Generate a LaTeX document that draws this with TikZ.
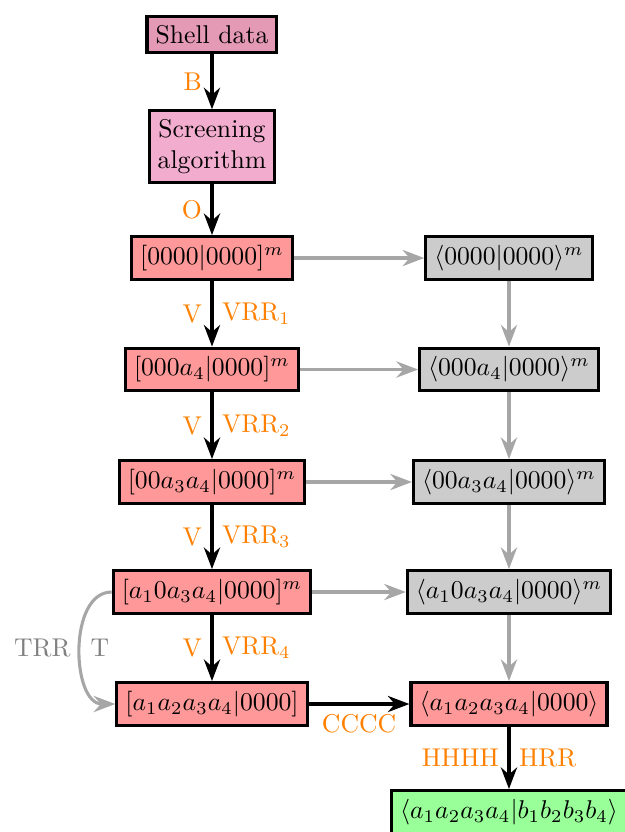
\documentclass[tikz,border=0pt]{standalone}
\usepackage{amsmath}
\usepackage{xcolor}
\usetikzlibrary{arrows.meta}
\tikzset{>=Stealth}
\definecolor{shellcol}{RGB}{228,153,180}
\definecolor{screencol}{RGB}{242,172,206}
\colorlet{labcol}{orange}
\colorlet{edgecol}{black!35}
\tikzset{box/.style={draw,very thick,align=center}}
\tikzset{redbox/.style={box,fill=red!40}}
\tikzset{graybox/.style={box,fill=black!20}}
\tikzset{mainarrow/.style={->,very thick}}
\tikzset{sidearrow/.style={->,very thick,edgecol}}
\tikzset{lab/.style={labcol}}

\begin{document}
\begin{tikzpicture}
                \useasboundingbox (0,0) rectangle (8.55,-11.382);

                \node[box,fill=shellcol] (shell) at (2.90,-0.472) {Shell data};
                \node[box,fill=screencol] (screen) at (2.90,-2.004) {Screening\\algorithm};

                \node[redbox] (l1) at (2.90,-3.530) {$[0000|0000]^m$};
                \node[redbox] (l2) at (2.90,-5.055) {$[000a_4|0000]^m$};
                \node[redbox] (l3) at (2.90,-6.594) {$[00a_3a_4|0000]^m$};
                \node[redbox] (l4) at (2.90,-8.099) {$[a_10a_3a_4|0000]^m$};
                \node[redbox] (l5) at (2.90,-9.631) {$[a_1a_2a_3a_4|0000]$};

                \node[graybox] (r1) at (6.963,-3.530) {$\langle 0000|0000\rangle^m$};
                \node[graybox] (r2) at (6.963,-5.055) {$\langle 000a_4|0000\rangle^m$};
                \node[graybox] (r3) at (6.963,-6.594) {$\langle 00a_3a_4|0000\rangle^m$};
                \node[graybox] (r4) at (6.963,-8.099) {$\langle a_10a_3a_4|0000\rangle^m$};
                \node[redbox] (r5) at (6.963,-9.631) {$\langle a_1a_2a_3a_4|0000\rangle$};

                \node[box,fill=green!40] (final) at (6.963,-11.108) {$\langle a_1a_2a_3a_4|b_1b_2b_3b_4\rangle$};

                % main path
                \draw[mainarrow] (shell) -- node[lab,left] {B} (screen);
                \draw[mainarrow] (screen) -- node[lab,left] {O} (l1);
                \draw[mainarrow] (l1) -- node[lab,left] {V} node[lab,right] {VRR$_1$} (l2);
                \draw[mainarrow] (l2) -- node[lab,left] {V} node[lab,right] {VRR$_2$} (l3);
                \draw[mainarrow] (l3) -- node[lab,left] {V} node[lab,right] {VRR$_3$} (l4);
                \draw[mainarrow] (l4) -- node[lab,left] {V} node[lab,right] {VRR$_4$} (l5);
                \draw[mainarrow] (l5) -- node[lab,below] {CCCC} (r5);
                \draw[mainarrow] (r5) -- node[lab,left] {HHHH} node[lab,right] {HRR} (final);

                % contracted side
                \draw[sidearrow] (l1) -- (r1);
                \draw[sidearrow] (l2) -- (r2);
                \draw[sidearrow] (l3) -- (r3);
                \draw[sidearrow] (l4) -- (r4);
                \draw[sidearrow] (r1) -- (r2);
                \draw[sidearrow] (r2) -- (r3);
                \draw[sidearrow] (r3) -- (r4);
                \draw[sidearrow] (r4) -- (r5);
                \draw[sidearrow] (l4.west) to[out=180,in=180]
                    node[black!50,left] {TRR} node[black!50,right] {T} (l5.west);
            \end{tikzpicture}
\end{document}
